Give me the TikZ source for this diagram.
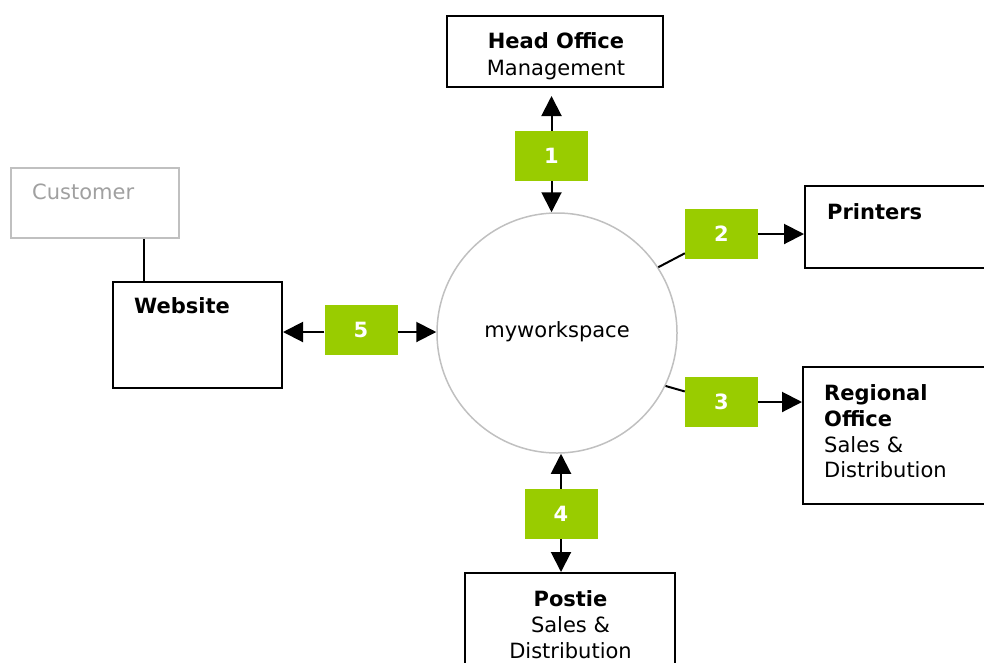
\documentclass[tikz,border=0pt]{standalone}
\usepackage{fontspec}
\setmainfont{DejaVu Sans}
\usetikzlibrary{arrows.meta,calc}
\definecolor{grn}{RGB}{153,204,0}
\definecolor{lgray}{RGB}{192,192,192}
\definecolor{tgray}{RGB}{160,160,160}
\begin{document}
\begin{tikzpicture}[x=1pt,y=-1pt,
  box/.style={draw=black,line width=2pt,fill=white,inner sep=0pt},
  greybox/.style={draw=lgray,line width=2pt,fill=white,inner sep=0pt},
  txt/.style={inner sep=0pt,font=\fontsize{21}{26}\selectfont},
  num/.style={fill=grn,draw=none,inner sep=0pt,minimum width=73pt,minimum height=50pt,
    text=white,font=\fontsize{21}{26}\selectfont\bfseries},
  conn/.style={line width=2pt,draw=black},
  tip/.style={-{Triangle[length=20pt,width=20pt]}},
]
\useasboundingbox (0,0) rectangle (984,662);
% central circle
\node[circle,draw=lgray,line width=1.5pt,minimum size=240pt,inner sep=0pt] (circ) at (557,333) {};
\node[txt,anchor=base] (circtxt) at (557,337) {myworkspace};
% boxes
\node[box,minimum width=216pt,minimum height=71pt] (head) at (555,51.5) {};
\node[txt,anchor=base] (head1) at (556,48.5) {\bfseries Head Office};
\node[txt,anchor=base] (head2) at (556,75.5) {Management};

\node[box,minimum width=190pt,minimum height=82pt] (print) at (900,227) {};
\node[txt,anchor=base west] (print1) at (827,219) {\bfseries Printers};

\node[box,minimum width=192pt,minimum height=137pt] (reg) at (899,435.5) {};
\node[txt,anchor=base west] (reg1) at (824,400.5) {\bfseries Regional};
\node[txt,anchor=base west] (reg2) at (824,426.5) {\bfseries Office};
\node[txt,anchor=base west] (reg3) at (824,452.5) {Sales \&};
\node[txt,anchor=base west] (reg4) at (824,477.5) {Distribution};

\node[box,minimum width=210pt,minimum height=107pt] (post) at (570,626.5) {};
\node[txt,anchor=base] (post1) at (570.5,606.5) {\bfseries Postie};
\node[txt,anchor=base] (post2) at (570.5,632.5) {Sales \&};
\node[txt,anchor=base] (post3) at (570.5,658.5) {Distribution};

\node[box,minimum width=169pt,minimum height=106pt] (web) at (197.5,335) {};
\node[txt,anchor=base west] (web1) at (134,313.5) {\bfseries Website};

\node[greybox,minimum width=168pt,minimum height=70pt] (cust) at (95,203) {};
\node[txt,anchor=base west,text=tgray] (cust1) at (32,199.5) {Customer};

% number boxes
\node[num] (g1) at (551.5,156) {1};
\node[num] (g2) at (721.5,234) {2};
\node[num] (g3) at (721.5,402) {3};
\node[num] (g4) at (561,514) {4};
\node[num] (g5) at (361,330) {5};

% connectors
\coordinate (cl) at (144,0);
\draw[conn] (cust.south -| cl) -- (web.north -| cl);

\draw[conn,tip,shorten >=8pt] (g1.north) -- (g1.north |- head.south);
\draw[conn,tip] (g1.south) -- (g1.south |- circ.north);

\draw[conn] (circ.33) -- (g2);
\draw[conn,tip] (g2.east) -- (print.west |- g2.east);

\draw[conn] (circ.-26.6) -- (g3);
\draw[conn,tip] (g3.east) -- (reg.west |- g3.east);

\draw[conn,tip] (g4.north) -- (g4.north |- circ.south);
\draw[conn,tip] (g4.south) -- (g4.south |- post.north);

\coordinate (h5) at (0,332);
\draw[conn,tip] (g5.west |- h5) -- (web.east |- h5);
\draw[conn,tip] (g5.east |- h5) -- (circ.west |- h5);
\end{tikzpicture}
\end{document}
